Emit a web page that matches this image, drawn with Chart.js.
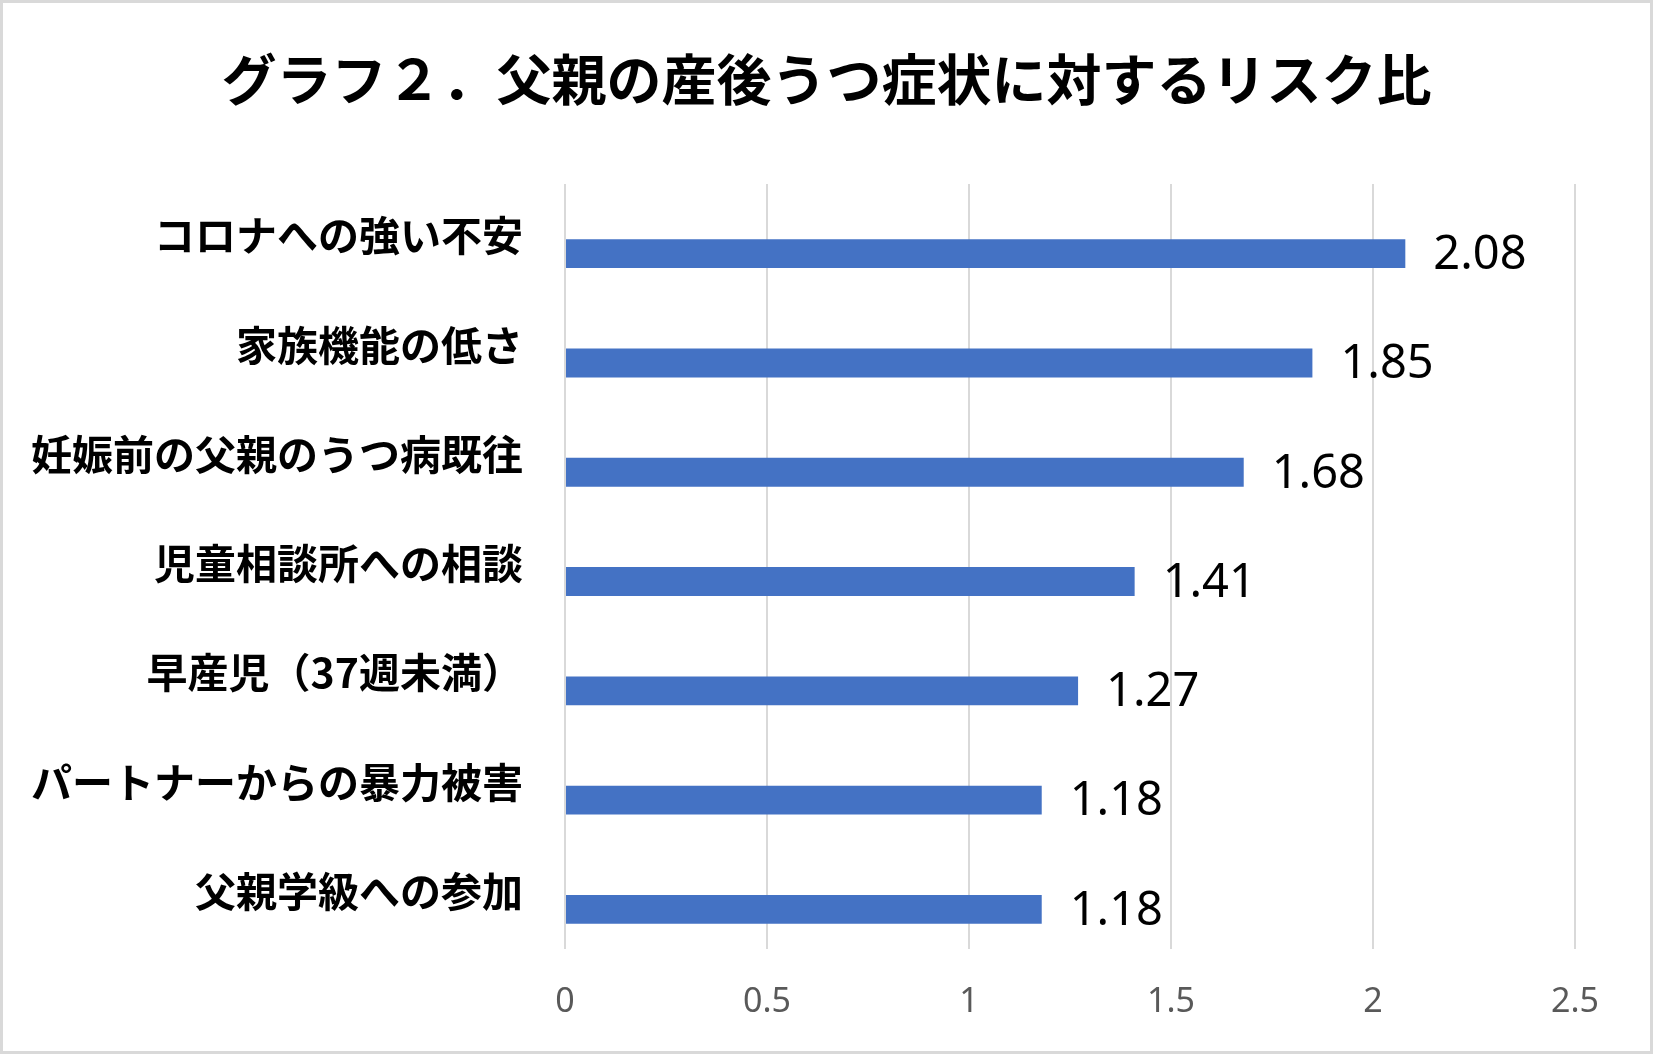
<!DOCTYPE html>
<html>
<head>
<meta charset="utf-8">
<script src="https://cdn.jsdelivr.net/npm/chart.js@4/dist/chart.umd.min.js"></script>
<style>
  html, body { margin: 0; padding: 0; background: #fff; }
  #wrap { position: absolute; left: 0; top: 0; width: 1653px; height: 1054px; box-sizing: border-box; border: 3px solid #d9d9d9; background: #fff; }
  canvas { display: block; }
</style>
</head>
<body>
<div id="wrap"><canvas id="c" width="1647" height="1048"></canvas></div>
<script>
const titleText = 'グラフ２．父親の産後うつ症状に対するリスク比';
const categories = [
  'コロナへの強い不安',
  '家族機能の低さ',
  '妊娠前の父親のうつ病既往',
  '児童相談所への相談',
  '早産児（37週未満）',
  'パートナーからの暴力被害',
  '父親学級への参加'
];
const riskRatios = [2.08, 1.85, 1.68, 1.41, 1.27, 1.18, 1.18];
const spacerSeries = [null, null, null, null, null, null, null];
const xMin = 0, xMax = 2.5, xStep = 0.5;

const cjk = '"Noto Sans CJK JP", "Noto Sans", sans-serif';

const valueLabelPlugin = {
  id: 'valueLabels',
  afterDatasetsDraw(chart) {
    const meta = chart.getDatasetMeta(1);
    const ctx = chart.ctx;
    ctx.save();
    ctx.font = '47px "Noto Sans", sans-serif';
    ctx.fillStyle = '#000000';
    ctx.textAlign = 'left';
    ctx.textBaseline = 'middle';
    meta.data.forEach((bar, i) => {
      ctx.fillText(riskRatios[i].toFixed(2), bar.x + 28, bar.y + 2);
    });
    ctx.restore();
  }
};

new Chart(document.getElementById('c'), {
  type: 'bar',
  data: {
    labels: categories,
    datasets: [
      { label: '', data: spacerSeries, backgroundColor: 'rgba(0,0,0,0)' },
      { label: 'リスク比', data: riskRatios, backgroundColor: '#4472C4', borderWidth: 0 }
    ]
  },
  options: {
    indexAxis: 'y',
    responsive: false,
    animation: false,
    events: [],
    datasets: { bar: { categoryPercentage: 0.55, barPercentage: 0.96 } },
    layout: { padding: 0 },
    plugins: {
      legend: { display: false },
      tooltip: { enabled: false },
      title: {
        display: true,
        text: titleText,
        color: '#000000',
        font: { family: cjk, size: 55, weight: 'bold', lineHeight: 1.2 },
        padding: { top: 43, bottom: 72 }
      }
    },
    scales: {
      x: {
        min: xMin, max: xMax,
        ticks: {
          stepSize: xStep, color: '#595959',
          font: { family: '"Noto Sans", sans-serif', size: 34 }, padding: 33,
          callback: (v) => String(v)
        },
        grid: { color: '#d9d9d9', lineWidth: 2, drawTicks: false },
        border: { display: false },
        afterFit(scale) { scale.height = 102; }
      },
      y: {
        ticks: { color: '#000000', font: { family: cjk, size: 41, weight: 'bold' }, padding: 42, labelOffset: -3 },
        grid: { display: false, drawTicks: false },
        border: { display: false },
        afterFit(scale) { scale.width = 562; }
      },
      yRight: {
        type: 'category',
        labels: categories,
        position: 'right',
        display: true,
        ticks: { display: false },
        grid: { display: false, drawTicks: false },
        border: { display: false },
        afterFit(scale) { scale.width = 75; }
      }
    }
  },
  plugins: [valueLabelPlugin]
});
</script>
</body>
</html>
